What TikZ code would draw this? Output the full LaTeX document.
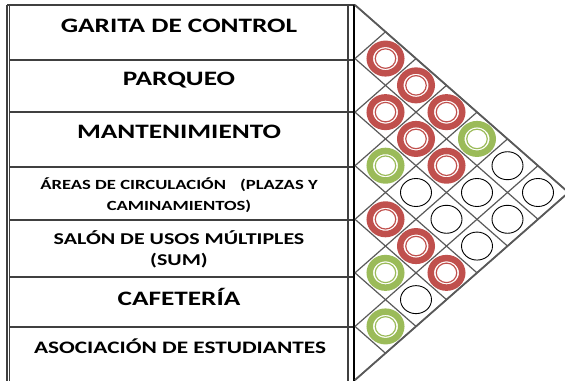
\documentclass[tikz,border=0pt]{standalone}
\usepackage{fontspec}
\setmainfont{Carlito}[FakeStretch=1.33]
\usetikzlibrary{shapes.geometric}
\definecolor{ored}{HTML}{C0504D}
\definecolor{ogreen}{HTML}{9BBB59}
\definecolor{gline}{HTML}{595959}
\definecolor{tline}{HTML}{404040}
\begin{document}
\begin{tikzpicture}[x=1pt,y=-1pt,
  lbl/.style={font=\bfseries\fontsize{#1}{#1}\selectfont, inner sep=0pt, anchor=base},
  tab/.style={draw=tline, line width=1.1pt},
  gridln/.style={draw=gline, line width=1.2pt},
  edgeln/.style={draw=gline, line width=1.8pt},
  ringthick/.style={ellipse, draw=#1, line width=6.5pt, minimum width=31.5pt, minimum height=29.5pt, inner sep=0pt},
  ringthin/.style={ellipse, draw=#1, line width=1.2pt, minimum width=20.5pt, minimum height=19.5pt, inner sep=0pt},
  blank/.style={ellipse, draw=black, line width=0.9pt, minimum width=31pt, minimum height=28pt, inner sep=0pt}]
\useasboundingbox (0,0) rectangle (565,381);
\clip (0,0) rectangle (565,381);
% table
\draw[tab] (7,5) -- (7,381);
\draw[tab] (9.5,6) -- (9.5,381);
\draw[tab] (7,5) -- (355,5);
\foreach \yy in {60,112,167,220,277,327} \draw[tab] (9.5,\yy) -- (355,\yy);
\draw[tab] (348,5) -- (348,381);
\draw[draw=black, line width=2pt] (354,5) -- (354,381);
% labels
\node[lbl=20.5] (garita) at (179,32) {GARITA DE CONTROL};
\node[lbl=20.5] (parqueo) at (179,85) {PARQUEO};
\node[lbl=20.5] (mant) at (179,138) {MANTENIMIENTO};
\node[lbl=14] (areas1) at (179,189.3) {ÁREAS DE CIRCULACIÓN\quad(PLAZAS Y};
\node[lbl=14] (areas2) at (179,210) {CAMINAMIENTOS)};
\node[lbl=16.5] (salon1) at (179,244) {SALÓN DE USOS MÚLTIPLES};
\node[lbl=16.5] (salon2) at (179,265) {(SUM)};
\node[lbl=20.5] (cafe) at (179,305) {CAFETERÍA};
\node[lbl=17.5] (asoc) at (180,353) {ASOCIACIÓN DE ESTUDIANTES};
% grid
\foreach \k in {0,...,7} {
  \draw[gridln] (355,{5+\k*53.57}) -- ({355+(7-\k)*30.5},{5+(\k+7)*53.57/2});
  \draw[gridln] (355,{5+\k*53.57}) -- ({355+\k*30.5},{5+\k*53.57/2});
}
\draw[edgeln] (355,5) -- (568.5,192.5) -- (355,380);
% cells
\foreach \i/\j/\t in {1/2/r,1/3/r,2/3/r,1/4/r,2/4/r,1/5/g,3/4/g,2/5/r,1/6/k,3/5/k,2/6/k,1/7/k,4/5/r,3/6/k,2/7/k,4/6/r,3/7/k,5/6/g,4/7/r,5/7/k,6/7/g} {
  \coordinate (p\i\j) at ({355+(\j-\i)*30.5},{5+(\i+\j-1)*53.57/2});
  \if\t k
    \node[blank] (c\i\j) at (p\i\j) {};
  \else
    \if\t r
      \node[ringthick=ored] (c\i\j) at (p\i\j) {};
      \node[ringthin=ored] (d\i\j) at (p\i\j) {};
    \else
      \node[ringthick=ogreen] (c\i\j) at (p\i\j) {};
      \node[ringthin=ogreen] (d\i\j) at (p\i\j) {};
    \fi
  \fi
}
\end{tikzpicture}
\end{document}
